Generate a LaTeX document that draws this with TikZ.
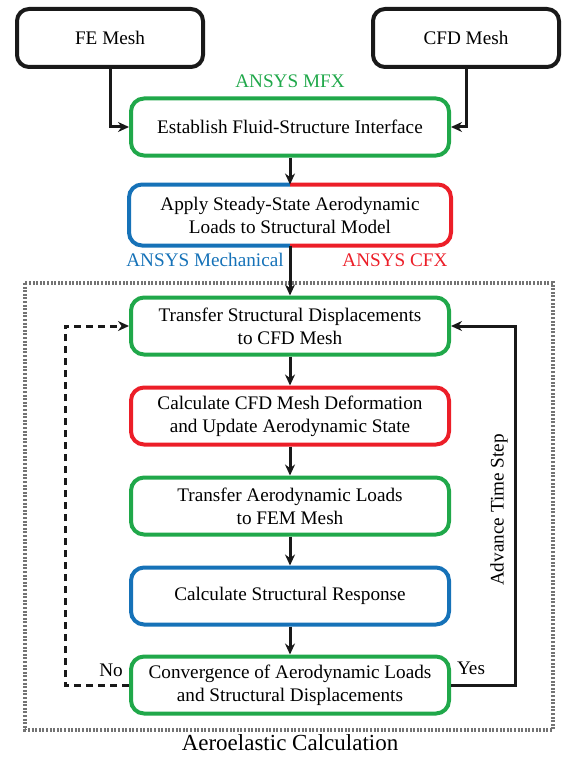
\documentclass[tikz,border=0pt]{standalone}
\usepackage{fontspec}
\setmainfont{Liberation Serif}
\usetikzlibrary{arrows.meta}
\definecolor{mfxgreen}{RGB}{32,168,74}
\definecolor{mechblue}{RGB}{22,114,184}
\definecolor{cfxred}{RGB}{236,30,40}

\begin{document}
\begin{tikzpicture}[x=1pt,y=-1pt,
    txt/.style={font=\fontsize{19.2}{23}\selectfont},
    meshbox/.style={txt,draw=black!90,rounded corners=12pt,line width=4pt,minimum width=186pt,minimum height=58pt},
    stepbox/.style={txt,rounded corners=13pt,line width=4pt,minimum width=318pt,minimum height=57pt,align=center},
    flow/.style={line width=3pt,black!90,-{Stealth[length=11pt,width=10pt]}},
    nopath/.style={flow,dash pattern=on 7pt off 5pt},
    loopframe/.style={line width=3.5pt,black!55,dash pattern=on 2pt off 1.6pt}]
    \useasboundingbox (0,0) rectangle (567,757);
    % inputs
    \node[meshbox] (fe) at (110,38) {FE Mesh};
    \node[meshbox] (cfd) at (466,38) {CFD Mesh};
    % coupling setup
    \node[stepbox,draw=mfxgreen] (fsi) at (290,127) {Establish Fluid-Structure Interface};
    \node[txt,text=mfxgreen] (mfx) at (290,81) {ANSYS MFX};
    \node[stepbox] (apply) at (290,215) {Apply Steady-State Aerodynamic\\Loads to Structural Model};
    \draw[mechblue,line width=4pt,rounded corners=13pt] (apply.north) -| (apply.west) |- (apply.south);
    \draw[cfxred,line width=4pt,rounded corners=13pt] (apply.north) -| (apply.east) |- (apply.south);
    \node[txt,text=mechblue] (mech) at (205,260) {ANSYS Mechanical};
    \node[txt,text=cfxred] (cfx) at (395,260) {ANSYS CFX};
    % aeroelastic loop
    \draw[loopframe] (25,283) rectangle (553,730);
    \node[font=\fontsize{23}{27}\selectfont] (aero) at (290,743) {Aeroelastic Calculation};
    \node[stepbox,draw=mfxgreen] (xdisp) at (290,326) {Transfer Structural Displacements\\to CFD Mesh};
    \node[stepbox,draw=cfxred] (deform) at (290,416) {Calculate CFD Mesh Deformation\\and Update Aerodynamic State};
    \node[stepbox,draw=mfxgreen] (xload) at (290,506) {Transfer Aerodynamic Loads\\to FEM Mesh};
    \node[stepbox,draw=mechblue] (resp) at (290,596) {Calculate Structural Response};
    \node[stepbox,draw=mfxgreen] (conv) at (290,685) {Convergence of Aerodynamic Loads\\and Structural Displacements};
    \coordinate (yesc) at (515,500);
    \coordinate (noc) at (65,500);
    \draw[flow] (fe.south) |- (fsi.west);
    \draw[flow] (cfd.south) |- (fsi.east);
    \draw[flow] (fsi) -- (apply);
    \draw[flow] (apply) -- (xdisp);
    \draw[flow] (xdisp) -- (deform);
    \draw[flow] (deform) -- (xload);
    \draw[flow] (xload) -- (resp);
    \draw[flow] (resp) -- (conv);
    \draw[flow] (conv.east) -| (yesc) |- (xdisp.east);
    \draw[nopath] (conv.west) -| (noc) |- (xdisp.west);
    \node[txt] (yes) at (471,668) {Yes};
    \node[txt] (no) at (111,670) {No};
    \node[txt,rotate=90] (adv) at (499,510) {Advance Time Step};
\end{tikzpicture}
\end{document}
